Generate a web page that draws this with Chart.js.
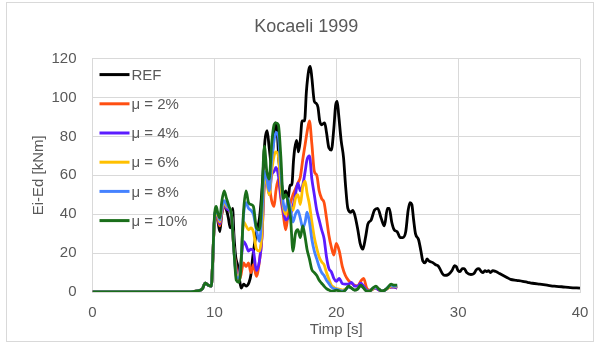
<!DOCTYPE html>
<html>
<head>
<meta charset="utf-8">
<script src="https://cdn.jsdelivr.net/npm/chart.js@4.4.1/dist/chart.umd.min.js"></script>
<style>
  html, body { margin: 0; padding: 0; background: #fff; }
  #wrap { width: 595px; height: 345px; position: relative; }
</style>
</head>
<body>
<div id="wrap"><canvas id="kocaeliChart" width="595" height="345"></canvas></div>
<script>
// Ei-Ed [kNm] vs time [s]
const seriesLabels = ['REF', 'μ = 2%', 'μ = 4%', 'μ = 6%', 'μ = 8%', 'μ = 10%'];
const seriesColors = ['#000000', '#ff4f12', '#5b1cff', '#ffc000', '#4582ff', '#1a6e1a'];
const xTicks = [0, 10, 20, 30, 40];
const yTicks = [0, 20, 40, 60, 80, 100, 120];

const refTime = [0, 7.7, 8.5, 9.0, 9.25, 9.5, 9.75, 9.85, 10.0, 10.15, 10.3, 10.45, 10.6, 10.8, 11.0, 11.15, 11.3, 11.4, 11.5, 11.6, 11.75, 11.9, 12.05, 12.2, 12.4, 12.6, 12.85, 13.0, 13.15, 13.3, 13.5, 13.7, 13.85, 14.0, 14.15, 14.33, 14.5, 14.7, 14.85, 15.0, 15.15, 15.3, 15.5, 15.7, 15.85, 16.05, 16.2, 16.35, 16.5, 16.6, 16.75, 16.9, 17.05, 17.2, 17.4, 17.55, 17.74, 17.87, 18.0, 18.2, 18.35, 18.5, 18.64, 18.8, 19.05, 19.2, 19.4, 19.6, 19.8, 19.95, 20.08, 20.2, 20.4, 20.6, 20.76, 20.95, 21.2, 21.35, 21.5, 21.77, 21.96, 22.18, 22.4, 22.6, 22.86, 23.13, 23.4, 23.68, 23.95, 24.2, 24.35, 24.55, 24.75, 25.0, 25.25, 25.45, 25.7, 25.9, 26.05, 26.2, 26.35, 26.5, 26.75, 26.95, 27.1, 27.3, 27.45, 27.6, 27.95, 28.15, 28.35, 28.5, 28.7, 28.9, 29.2, 29.5, 29.7, 29.85, 30.0, 30.15, 30.35, 30.5, 30.7, 31.05, 31.3, 31.5, 31.7, 31.9, 32.05, 32.2, 32.35, 32.5, 32.65, 32.85, 33.1, 33.4, 33.7, 34.0, 34.3, 34.8, 35.3, 35.7, 36.1, 36.7, 37.3, 37.9, 38.5, 39.2, 40.0];
const refValues = [0, 0, 0.5, 1.5, 4.5, 3.5, 3, 14, 37, 42, 36, 31, 40, 44, 42, 38, 33, 37, 43, 30, 18, 14, 7, 2, 4, 3, 5, 9, 18, 25, 32, 38, 48, 62, 78, 83, 74, 65, 79, 87, 83, 67, 56, 50, 52, 48, 55, 55, 68, 74, 78, 72, 78, 88, 88, 103, 114, 116, 110, 98, 97, 95, 88, 86, 87, 82, 74, 73, 84, 96, 98, 91, 78, 69, 55, 43, 41, 42, 40, 32, 25, 22, 28, 35, 37, 42, 43, 38, 34, 43, 43, 36, 32, 31, 28, 28, 31, 42, 46, 45, 37, 30, 27, 21, 16, 15, 17, 16, 15, 14, 13.5, 12, 9.5, 8.5, 9, 11, 13.5, 13, 11, 10.5, 12, 12, 10, 9, 9.5, 11.5, 12, 10.5, 10, 11, 10.5, 11, 10, 11, 10.5, 9.5, 8.5, 7.5, 6.5, 6, 5.5, 5, 4.5, 4, 3.5, 3, 2.7, 2.3, 2];

const muTime = [0, 7.7, 8.5, 9.0, 9.25, 9.5, 9.75, 9.85, 10.0, 10.15, 10.3, 10.45, 10.6, 10.8, 11.0, 11.2, 11.4, 11.6, 11.8, 12.0, 12.15, 12.4, 12.6, 12.8, 13.0, 13.2, 13.45, 13.7, 13.9, 14.1, 14.3, 14.5, 14.7, 14.9, 15.05, 15.25, 15.45, 15.65, 15.85, 16.05, 16.25, 16.45, 16.65, 16.85, 17.05, 17.25, 17.45, 17.6, 17.8, 18.0, 18.2, 18.4, 18.6, 18.8, 19.0, 19.2, 19.4, 19.6, 19.8, 20.0, 20.25, 20.5, 20.75, 21.0, 21.25, 21.5, 21.75, 22.0, 22.25, 22.5, 22.75, 23.0, 23.25, 23.5, 23.75, 24.0, 24.25, 24.5, 24.75, 25.0];
const mu2Values = [0, 0, 0.5, 1.5, 4.5, 3.5, 3, 14, 36, 40, 37, 34, 40, 44, 43, 42, 40, 22, 12, 6, 8, 15, 13, 15, 10, 14, 8, 16, 28, 55, 62, 55, 47, 44, 52, 58, 48, 40, 32, 40, 46, 50, 53, 56, 59, 68, 76, 82, 88, 76, 62, 60, 52, 48, 46, 38, 29, 23, 19, 25, 21, 13, 8.5, 6, 4.5, 3.5, 3, 5.5, 7, 2, 1, 1.5, 2, 1, 0.5, 1, 2, 2.5, 2.5, 2];
const mu4Values = [0, 0, 0.5, 1.5, 4.5, 3.5, 3, 14, 36, 40, 38, 35, 41, 45, 43, 42, 40, 22, 10, 9, 14, 26, 24, 21, 22, 21, 11, 16, 28, 56, 58, 50, 60, 62, 64, 60, 50, 42, 37, 38, 40, 44, 50, 56, 52, 55, 62, 68, 70, 58, 50, 42, 37, 32, 27.5, 18, 12, 10.4, 7, 5.5, 7, 4.3, 4, 4, 5, 3, 3, 4.5, 3, 1, 0.5, 1.5, 2, 1, 0.5, 1, 2, 2.5, 2.5, 2];
const mu6Values = [0, 0, 0.5, 1.5, 4.5, 3.5, 3, 14, 36, 41, 39, 36, 42, 46, 44, 43, 40, 22, 9, 8, 13, 36, 34, 32, 33, 31, 22, 21, 30, 58, 56, 50, 62, 70, 72, 70, 55, 44, 40, 46, 44, 42, 48, 50, 45, 54, 57, 51, 45, 36, 28, 22.5, 18, 15.5, 14, 10, 6.5, 3.5, 2.5, 1.7, 1.5, 1, 1.5, 2.5, 2, 1, 1.5, 3, 2, 0.5, 0.5, 1.5, 2.5, 1.5, 0.5, 1, 2, 3, 3, 2.5];
const mu8Values = [0, 0, 0.5, 1.5, 4.5, 3.5, 3, 14, 37, 42, 40, 37, 43, 47, 45, 43, 40, 22, 8, 7, 12, 40, 46, 43, 42, 40, 32, 26, 40, 62, 58, 52, 68, 78, 82, 80, 63, 46, 42, 48, 42, 36, 40, 42, 38, 33, 36, 41, 36, 27, 21, 17, 13, 10, 8.5, 6, 4.3, 2.5, 1.7, 1.5, 1, 0.5, 1, 2.5, 2, 1, 1.5, 3, 2, 0.5, 0.5, 2, 2.5, 1.5, 0.5, 1, 2.5, 3.5, 3, 3];
const mu10Values = [0, 0, 0.5, 1.5, 4.5, 3.5, 3, 14, 38, 44, 40, 38, 46, 52, 48, 44, 40, 22, 6, 5, 10, 42, 52, 46, 45, 44, 33, 32, 48, 75, 62, 58, 76, 86, 87, 86, 70, 48, 50, 46, 38, 21, 30, 32, 28, 34, 28, 22, 17, 11.5, 10, 8.5, 6, 4.5, 3, 1.7, 1, 0.5, 0.5, 1, 0.5, 0, 1, 3, 2, 1, 1.5, 3.5, 2, 0.5, 0.5, 2, 3, 1.5, 0.5, 1, 2.5, 4, 3.5, 3.5];

const FONT = '"Liberation Sans", Arial, sans-serif';
const TEXT_COLOR = '#595959';
const GRID_COLOR = '#d9d9d9';

function toPoints(times, values) {
    return times.map((t, i) => ({ x: t, y: values[i] }));
}

const seriesData = [
    toPoints(refTime, refValues),
    toPoints(muTime, mu2Values),
    toPoints(muTime, mu4Values),
    toPoints(muTime, mu6Values),
    toPoints(muTime, mu8Values),
    toPoints(muTime, mu10Values)
];

const datasets = seriesLabels.map((label, i) => ({
    label: label,
    data: seriesData[i],
    borderColor: seriesColors[i],
    backgroundColor: seriesColors[i],
    borderWidth: 2.8,
    pointRadius: 0,
    cubicInterpolationMode: 'monotone',
    // later series are painted on top, as in the original
    order: seriesLabels.length - i
}));

// white page with the thin frame round the chart
const framePlugin = {
    id: 'frame',
    beforeDraw(chart) {
        const ctx = chart.ctx;
        ctx.save();
        ctx.fillStyle = '#ffffff';
        ctx.fillRect(0, 0, chart.width, chart.height);
        ctx.strokeStyle = GRID_COLOR;
        ctx.lineWidth = 1;
        ctx.strokeRect(6.5, 2.5, 587, 339);
        ctx.restore();
    }
};

// legend sits inside the plot, top left, without a box
const insideLegend = {
    id: 'insideLegend',
    afterDatasetsDraw(chart) {
        const { ctx, chartArea } = chart;
        ctx.save();
        ctx.font = '15px ' + FONT;
        ctx.textBaseline = 'middle';
        ctx.textAlign = 'left';
        chart.data.datasets.forEach((ds, i) => {
            const x = chartArea.left + 7;
            const y = chartArea.top + 16 + i * 29.2;
            ctx.strokeStyle = ds.borderColor;
            ctx.lineWidth = 3;
            ctx.beginPath();
            ctx.moveTo(x, y);
            ctx.lineTo(x + 30, y);
            ctx.stroke();
            ctx.fillStyle = TEXT_COLOR;
            ctx.fillText(ds.label, x + 32, y + 1);
        });
        ctx.restore();
    }
};

const ctx = document.getElementById('kocaeliChart').getContext('2d');
new Chart(ctx, {
    type: 'line',
    data: { datasets: datasets },
    options: {
        responsive: false,
        animation: false,
        layout: { padding: { left: 24, right: 6.5, top: 3, bottom: 4 } },
        plugins: {
            legend: { display: false },
            tooltip: { enabled: false },
            title: {
                display: true,
                text: 'Kocaeli 1999',
                color: TEXT_COLOR,
                font: { family: FONT, size: 18, weight: 'normal' },
                padding: { top: 13, bottom: 21 }
            }
        },
        scales: {
            x: {
                type: 'linear',
                min: xTicks[0],
                max: xTicks[xTicks.length - 1],
                afterBuildTicks: (scale) => { scale.ticks = xTicks.map(v => ({ value: v })); },
                afterFit: (scale) => {
                    scale.height = 49;
                    // keep the plot's right edge where the original has it
                    scale.paddingRight = 15;
                    scale.paddingLeft = 0;
                },
                grid: { color: GRID_COLOR, drawTicks: false },
                border: { color: GRID_COLOR },
                ticks: { color: TEXT_COLOR, padding: 12, font: { family: FONT, size: 15 } },
                title: {
                    display: true,
                    text: 'Timp [s]',
                    color: TEXT_COLOR,
                    font: { family: FONT, size: 15 },
                    padding: { top: 0, bottom: 2 }
                }
            },
            y: {
                min: yTicks[0],
                max: yTicks[yTicks.length - 1],
                afterBuildTicks: (scale) => { scale.ticks = yTicks.map(v => ({ value: v })); },
                afterFit: (scale) => { scale.width = 68.5; },
                grid: { color: GRID_COLOR, drawTicks: false },
                border: { color: GRID_COLOR },
                ticks: { color: TEXT_COLOR, padding: 16, font: { family: FONT, size: 15 } },
                title: {
                    display: true,
                    text: 'Ei-Ed [kNm]',
                    color: TEXT_COLOR,
                    font: { family: FONT, size: 15 },
                    padding: { top: 6, bottom: 0 }
                }
            }
        }
    },
    plugins: [framePlugin, insideLegend]
});
</script>
</body>
</html>
